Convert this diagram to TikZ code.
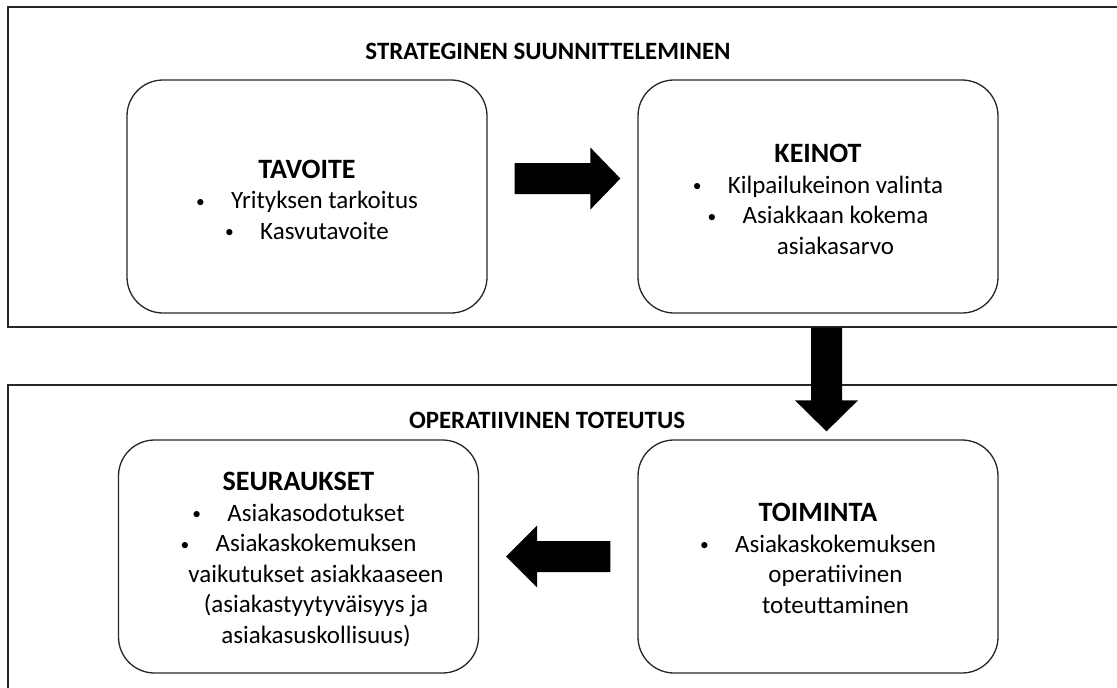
\documentclass[tikz,border=0pt]{standalone}
\usepackage{fontspec}
\setmainfont{Carlito}
\usetikzlibrary{calc}
\newcommand\myhd[1]{{\fontsize{28}{30.5}\selectfont\bfseries #1}}
\newcommand\mybl{\makebox[35pt][l]{\raisebox{1.5pt}{\scalebox{0.7}{•}}}}
\newcommand\myind{\hspace*{35pt}}
\begin{document}
\begin{tikzpicture}[x=1pt,y=-1pt,
  frame/.style={draw=black!85, line width=1.3pt},
  box/.style={draw=black!85, line width=1.3pt, rounded corners=36pt, minimum width=360pt, minimum height=233pt, inner sep=0pt},
  boxtext/.style={align=center, inner sep=0pt, anchor=north, font=\fontsize{25}{30.5}\selectfont},
  sectitle/.style={anchor=base, inner sep=0pt, font=\fontsize{24.9}{30}\selectfont\bfseries},
  blockarrow/.style={fill=black}]
\useasboundingbox (0,0) rectangle (1117,688);
\begin{scope}
\clip (0,0) rectangle (1117,688);
\draw[frame] (8,7) rectangle (1140,327);
\draw[frame] (8,385) rectangle (1140,710);
\end{scope}
\node[sectitle] (strat) at (548,59) {STRATEGINEN SUUNNITTELEMINEN};
\node[sectitle] (oper) at (547,428) {OPERATIIVINEN TOTEUTUS};
% boxes
\node[box] (tavoite) at (307,196.5) {};
\node[box] (keinot) at (818,196.5) {};
\node[box] (seuraukset) at (298.5,556.5) {};
\node[box] (toiminta) at (818,556.5) {};
% texts
\node[boxtext] (tavoiteT) at ($(tavoite.north)+(0,80.5)$) {\myhd{TAVOITE}\\ \mybl Yrityksen tarkoitus\\ \mybl Kasvutavoite};
\node[boxtext] (keinotT) at ($(keinot.north)+(0,65)$) {\myhd{KEINOT}\\ \mybl Kilpailukeinon valinta\\ \mybl Asiakkaan kokema\\ \myind asiakasarvo};
\node[boxtext] (seurauksetT) at ($(seuraukset.north)+(0,33)$) {\myhd{SEURAUKSET}\\ \mybl Asiakasodotukset\\ \mybl Asiakaskokemuksen\\ \myind vaikutukset asiakkaaseen\\ \myind (asiakastyytyväisyys ja\\ \myind asiakasuskollisuus)};
\node[boxtext] (toimintaT) at ($(toiminta.north)+(0,64)$) {\myhd{TOIMINTA}\\ \mybl Asiakaskokemuksen\\ \myind operatiivinen\\ \myind toteuttaminen};
% arrows
\coordinate (r0) at ($(tavoite.east)+(27,-18)$);
\coordinate (r1) at ($(keinot.west)+(-17,-18)$);
\fill[blockarrow] ($(r0)+(0,-15.5)$) -- ($(r1)+(-30,-15.5)$) -- ($(r1)+(-30,-31)$) -- (r1) -- ($(r1)+(-30,31)$) -- ($(r1)+(-30,15.5)$) -- ($(r0)+(0,15.5)$) -- cycle;
\coordinate (d0) at ($(keinot.south)+(8.5,14)$);
\coordinate (d1) at ($(toiminta.north)+(8.5,-8)$);
\fill[blockarrow] ($(d0)+(-15.5,0)$) -- ($(d1)+(-15.5,-31)$) -- ($(d1)+(-31.5,-31)$) -- (d1) -- ($(d1)+(31.5,-31)$) -- ($(d1)+(15.5,-31)$) -- ($(d0)+(15.5,0)$) -- cycle;
\coordinate (l0) at ($(toiminta.west)+(-27,0)$);
\coordinate (l1) at ($(seuraukset.east)+(27,0)$);
\fill[blockarrow] ($(l0)+(0,-15.5)$) -- ($(l1)+(31,-15.5)$) -- ($(l1)+(31,-31)$) -- (l1) -- ($(l1)+(31,31)$) -- ($(l1)+(31,15.5)$) -- ($(l0)+(0,15.5)$) -- cycle;
\end{tikzpicture}
\end{document}
